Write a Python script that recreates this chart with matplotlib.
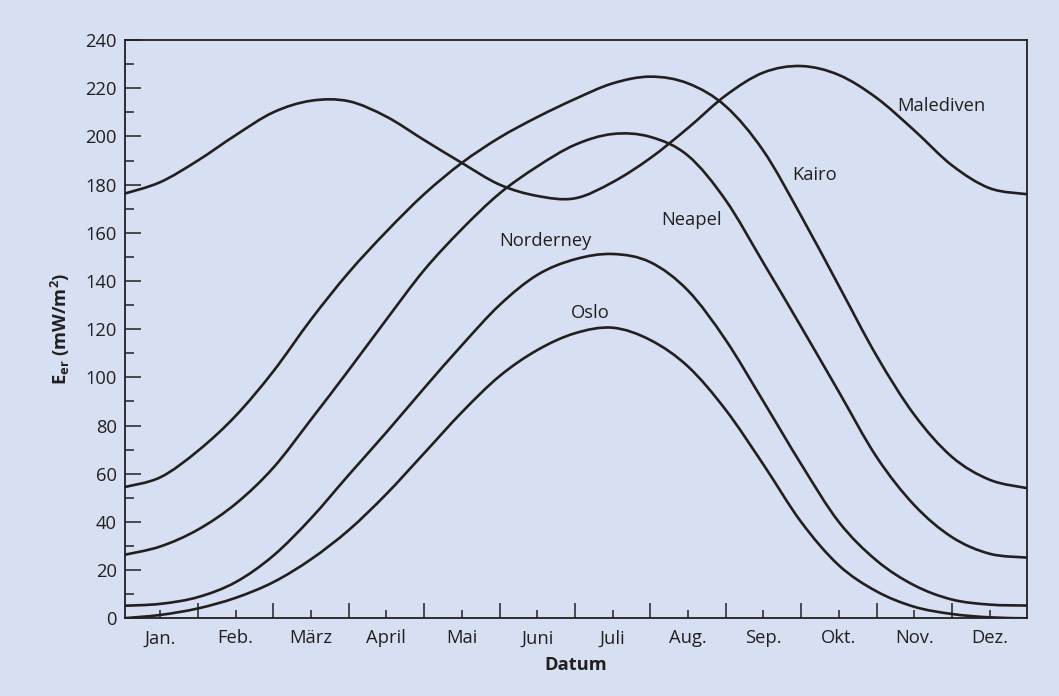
import numpy as np
import matplotlib
matplotlib.use("Agg")
import matplotlib.pyplot as plt
from matplotlib.path import Path
from matplotlib.patches import PathPatch

# Irradiance E_er (mW/m^2) sampled every half month, 0 = 1 January
months = np.arange(0, 12.01, 0.5)

malediven = [176, 181, 190, 200.5, 210, 214.8, 214.6, 208.2, 198.5, 189, 180, 175.3, 174.3,
             181, 191, 203.5, 217, 226.5, 229.2, 225.5, 216, 202.5, 188, 178.5, 176]
kairo = [54.3, 58.5, 69.5, 84, 102.5, 124, 143.5, 160.5, 176, 189, 199.5, 208, 215.5,
         222, 224.8, 222, 212.5, 194, 167, 138, 109, 84.5, 67, 57.5, 54]
neapel = [26.2, 29.8, 36.8, 47.5, 62.5, 82.5, 103, 124, 144.5, 161.5, 176.3, 187.5, 196.5,
          201, 199.8, 192, 173.5, 147.5, 121, 94, 67, 47, 33.7, 26.8, 25.2]
norderney = [5.2, 6, 8.8, 15, 26, 41.5, 59.5, 77.2, 95.5, 113.3, 130, 142.5, 149,
             151.2, 147.8, 136, 115.5, 90, 64, 40, 24, 13.7, 7.8, 5.7, 5.3]
oslo = [0, 1.4, 4.1, 8.5, 15, 24.5, 36.6, 51.6, 68.5, 85.5, 100.5, 111.3, 118.3,
        120.6, 115.5, 104.5, 86.5, 63.8, 40, 22, 11.2, 4.8, 1.8, 0.4, 0]

month_labels = ["Jan.", "Feb.", "März", "April", "Mai", "Juni", "Juli", "Aug.",
                "Sep.", "Okt.", "Nov.", "Dez."]

series = [("Malediven", malediven), ("Kairo", kairo), ("Neapel", neapel),
          ("Norderney", norderney), ("Oslo", oslo)]

# where each curve's name is written (month, value), left-aligned
label_pos = {"Malediven": (10.27, 212.5), "Kairo": (8.88, 184), "Neapel": (7.15, 165.3),
             "Norderney": (4.99, 156.7), "Oslo": (5.95, 126.6)}

BG = "#d6e0f2"
INK = "#231f20"

plt.rcParams["font.family"] = ["Open Sans", "DejaVu Sans"]
plt.rcParams["mathtext.fontset"] = "custom"
plt.rcParams["mathtext.rm"] = "Open Sans"
plt.rcParams["mathtext.bf"] = "Open Sans:bold"

fig = plt.figure(figsize=(10.59, 6.96), dpi=100, facecolor=BG)
ax = fig.add_axes([0.1178, 0.1116, 0.9701 - 0.1178, 0.9425 - 0.1116])
ax.set_facecolor(BG)


def smooth_path(x, y):
    """Catmull-Rom curve through the points, expressed as cubic Bezier segments."""
    pts = np.column_stack([x, y]).astype(float)
    ext = np.vstack([pts[0], pts, pts[-1]])
    verts = [pts[0]]
    codes = [Path.MOVETO]
    for i in range(1, len(ext) - 2):
        p0, p1, p2, p3 = ext[i - 1], ext[i], ext[i + 1], ext[i + 2]
        c1 = p1 + (p2 - p0) / 6.0
        c2 = p2 - (p3 - p1) / 6.0
        verts += [c1, c2, p2]
        codes += [Path.CURVE4] * 3
    return Path(verts, codes)


for name, vals in series:
    ax.add_patch(PathPatch(smooth_path(months, vals), facecolor="none",
                           edgecolor=INK, lw=1.9, capstyle="round", joinstyle="round"))
    lx, ly = label_pos[name]
    ax.text(lx, ly, name, fontsize=13.2, color=INK, ha="left", va="center")

ax.set_xlim(0.03, 12)
ax.set_ylim(0, 240)

# y axis: labelled ticks every 20, short ticks every 10, pointing inward
ax.set_yticks(np.arange(0, 241, 20))
ax.set_yticks(np.arange(10, 240, 20), minor=True)
ax.tick_params(axis="y", which="major", direction="in", length=11.5, width=1.1,
               color=INK, labelsize=13.2, labelcolor=INK, pad=5.5)
ax.tick_params(axis="y", which="minor", direction="in", length=6.5, width=1.1, color=INK)

# x axis: long ticks at month boundaries, short ticks with names at mid-month
ax.set_xticks(np.arange(1, 12))
ax.set_xticklabels([])
ax.set_xticks(np.arange(0.5, 12, 1), minor=True)
ax.set_xticklabels(month_labels, minor=True)
ax.tick_params(axis="x", which="major", direction="in", length=10.8, width=1.1, color=INK)
ax.tick_params(axis="x", which="minor", direction="in", length=6, width=1.1, color=INK,
               labelsize=13.2, labelcolor=INK, pad=7.9)

for s in ax.spines.values():
    s.set_color(INK)
    s.set_linewidth(1.3)

ax.set_xlabel("Datum", fontsize=13.2, fontweight="bold", color=INK, labelpad=6)
ax.set_ylabel(r"$\mathbf{E}_{\mathbf{er}}$ (mW/m$^{\mathbf{2}}$)", fontsize=13.2,
              fontweight="bold", color=INK, labelpad=10)

fig.savefig("out.png", dpi=100, facecolor=BG)
